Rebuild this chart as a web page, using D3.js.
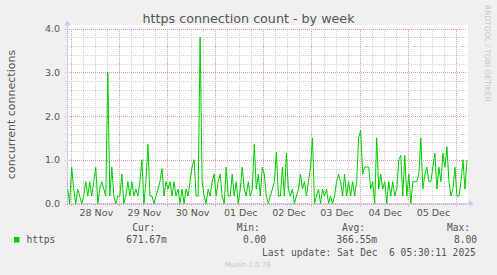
<!DOCTYPE html>
<html>
<head>
<meta charset="utf-8">
<script src="https://cdn.jsdelivr.net/npm/d3@7"></script>
<style>
  body { margin: 0; background: #f0f0f0; }
  svg { display: block; }
  text { font-family: "DejaVu Sans", sans-serif; }
  .mono { font-family: "DejaVu Sans Mono", monospace; }
</style>
</head>
<body>
<svg width="497" height="275"></svg>
<script>
(function (d3) {
  'use strict';

  // time window shown by the graph (munin week view)
  const startTime = new Date(2025, 10, 27, 22, 10);
  const endTime = new Date(2025, 11, 6, 5, 30);
  const firstSample = new Date(2025, 10, 27, 22, 30);
  const sampleStepMinutes = 60;

  // concurrent https connections, one value per hour
  const connections = [
    0.33, 0, 0.83, 0.33, 0, 0.33, 0.17, 0, 0.17, 0.5,
    0.17, 0.5, 0.17, 0.5, 0.83, 0, 0.33, 0.5, 0.33, 0.17,
    3.0, 0.17, 0.83, 0.17, 0, 0.17, 0.17, 0.67, 0, 0.17,
    0.5, 0.17, 0.5, 0.17, 0.33, 0.17, 0.5, 1.0, 0, 0.5,
    1.35, 0.17, 0.17, 0, 0.17, 0.33, 0.5, 0.8, 0.17, 0.5,
    0.33, 0.5, 0.17, 0.5, 0.17, 0.33, 0, 0.33, 0, 0.33,
    0.17, 0.5, 0.83, 1.0, 0.17, 0.17, 3.8, 0.5, 0.17, 0,
    0.33, 0.17, 0.5, 0.67, 0.17, 0.5, 0.67, 0.17, 0, 0.83,
    0.17, 0.17, 0.67, 0.17, 0.5, 0, 0.33, 0.83, 0.33, 0.17,
    0.5, 0.17, 0.33, 1.35, 0.33, 0.67, 0.17, 0.83, 0.67, 0.17,
    0, 0.17, 0.33, 0.5, 1.17, 0.17, 0.17, 0.83, 0.17, 1.15,
    0.33, 0.17, 0.33, 0, 0.17, 0.33, 0.67, 0.33, 0.5, 0.17,
    0.5, 0.83, 1.5, 0, 0.17, 0.33, 0, 0.33, 0.17, 0.33,
    0, 0.17, 0, 0.17, 0.5, 0.67, 0.5, 0.17, 0.67, 0.17,
    0.5, 0.17, 0.5, 0.17, 0.5, 1.5, 1.67, 0.67, 0.83, 0.83,
    0.83, 0.33, 0.5, 0, 1.5, 0.33, 0.67, 0.33, 0.5, 0,
    0.5, 0.17, 0.5, 0.17, 0.33, 1.0, 1.1, 0.17, 1.1, 0.17,
    0.67, 0, 0.5, 0.5, 0.5, 0.67, 1.5, 0.33, 0.67, 0.83,
    0.5, 0.5, 0.83, 1.15, 0.33, 0.83, 0.5, 1.15, 0.83, 1.3,
    0.5, 0.17, 0.33, 0.83, 0.17, 0.17, 0.5, 1.0, 0.33, 1.0
  ];

  const yMajorTicks = [0, 1, 2, 3, 4];
  const yMinorStep = 0.2;

  const legendHeaders = ['Cur:', 'Min:', 'Avg:', 'Max:'];
  const legendValues = ['671.67m', '0.00', '366.55m', '8.00'];

  const data = connections.map((v, i) => ({
    time: d3.timeMinute.offset(firstSample, i * sampleStepMinutes),
    value: v
  }));

  const svg = d3.select('svg');
  const left = 67, right = 467, top = 28.5, bottom = 203.5;
  const axisColor = '#c4caf4';
  const textColor = '#555';

  const xScale = d3.scaleTime().domain([startTime, endTime]).range([left, right]);
  const yScale = d3.scaleLinear().domain([0, 4]).range([bottom, top]);

  // plot canvas
  svg.append('rect')
    .attr('x', left).attr('y', 25)
    .attr('width', right - left + 1).attr('height', bottom - 25)
    .attr('fill', '#fff');

  // grid
  const minorY = d3.range(0, 4.0001, yMinorStep).filter(v => Math.abs(v - Math.round(v)) > 1e-6);
  const minorX = d3.timeHour.every(6).range(startTime, endTime).filter(d => d.getHours() !== 0);
  const days = d3.timeDay.range(d3.timeDay.ceil(startTime), endTime);

  const grid = svg.append('g').attr('shape-rendering', 'crispEdges');

  grid.append('g')
    .attr('transform', `translate(0,${bottom})`)
    .call(d3.axisBottom(xScale).tickValues(minorX).tickSize(-(bottom - top)).tickSizeOuter(0).tickFormat(''))
    .call(g => g.select('.domain').remove())
    .selectAll('line').attr('stroke', '#d2d2d2').attr('stroke-dasharray', '1,1').attr('y1', 2);

  grid.append('g')
    .attr('transform', `translate(${left},0)`)
    .call(d3.axisLeft(yScale).tickValues(minorY).tickSize(-(right - left)).tickFormat(''))
    .call(g => g.select('.domain').remove())
    .selectAll('line').attr('stroke', '#d2d2d2').attr('stroke-dasharray', '1,1').attr('x1', -2);

  grid.append('g')
    .attr('transform', `translate(0,${bottom})`)
    .call(d3.axisBottom(xScale).tickValues(days).tickSize(-(bottom - top)).tickFormat(''))
    .call(g => g.select('.domain').remove())
    .selectAll('line').attr('stroke', '#e79a9a').attr('stroke-dasharray', '1,1').attr('y1', 2);

  grid.append('g')
    .attr('transform', `translate(${left},0)`)
    .call(d3.axisLeft(yScale).tickValues(yMajorTicks).tickSize(-(right - left)).tickFormat(''))
    .call(g => g.select('.domain').remove())
    .selectAll('line').attr('stroke', '#e79a9a').attr('stroke-dasharray', '1,1').attr('x1', -2);

  // axes lines with arrows
  svg.append('line')
    .attr('x1', left + 0.5).attr('x2', left + 0.5)
    .attr('y1', bottom).attr('y2', 24)
    .attr('stroke', axisColor);
  svg.append('line')
    .attr('x1', left).attr('x2', 470)
    .attr('y1', bottom).attr('y2', bottom)
    .attr('stroke', axisColor);
  svg.append('path')
    .attr('d', `M${left + 0.5},20.5 L${left - 2.5},25.5 L${left + 3.5},25.5 Z`)
    .attr('fill', axisColor);
  svg.append('path')
    .attr('d', `M474,${bottom} L469,${bottom - 3} L469,${bottom + 3} Z`)
    .attr('fill', axisColor);

  // tick labels
  const noons = days.map(d => d3.timeHour.offset(d, 12)).filter(d => d < endTime);
  svg.append('g')
    .attr('transform', `translate(1,${bottom})`)
    .call(d3.axisBottom(xScale).tickValues(noons).tickSize(0).tickPadding(6)
      .tickFormat(d3.timeFormat('%d %b')))
    .call(g => g.select('.domain').remove())
    .selectAll('text')
      .attr('font-family', '"DejaVu Sans", sans-serif')
      .attr('font-size', '9.5px')
      .attr('fill', textColor);

  svg.append('g')
    .attr('transform', `translate(${left},0)`)
    .call(d3.axisLeft(yScale).tickValues(yMajorTicks).tickSize(0).tickPadding(7)
      .tickFormat(d3.format('.1f')))
    .call(g => g.select('.domain').remove())
    .selectAll('text')
      .attr('font-family', '"DejaVu Sans", sans-serif')
      .attr('font-size', '9.5px')
      .attr('fill', textColor);

  // series
  const line = d3.line()
    .x(d => xScale(d.time))
    .y(d => yScale(d.value));

  svg.append('path')
    .datum(data)
    .attr('d', line)
    .attr('fill', 'none')
    .attr('stroke', '#00cc00')
    .attr('stroke-width', 1);

  // title & labels
  svg.append('text')
    .attr('x', 248.5).attr('y', 23)
    .attr('text-anchor', 'middle')
    .attr('font-size', '12.7px')
    .attr('fill', textColor)
    .text('https connection count - by week');

  svg.append('text')
    .attr('transform', 'translate(15,114.5) rotate(-90)')
    .attr('text-anchor', 'middle')
    .attr('font-size', '11px')
    .attr('fill', textColor)
    .text('concurrent connections');

  svg.append('text')
    .attr('transform', 'translate(484.5,5) rotate(90)')
    .attr('font-size', '7.5px')
    .attr('fill', '#c8c8c8')
    .text('RRDTOOL / TOBI OETIKER');

  // legend
  svg.append('rect')
    .attr('x', 14).attr('y', 237)
    .attr('width', 5.5).attr('height', 5.5)
    .attr('fill', '#00cc00');

  svg.append('text').attr('class', 'mono')
    .attr('x', 26.5).attr('y', 243.3)
    .attr('font-size', '9.6px').attr('fill', textColor)
    .text('https');

  const headerX = [132.3, 236.7, 342, 447];
  const valueRight = [166.7, 266, 377, 477];

  svg.append('g').selectAll('text').data(legendHeaders)
    .enter().append('text')
      .attr('class', 'mono')
      .attr('x', (d, i) => headerX[i]).attr('y', 231)
      .attr('font-size', '9.6px').attr('fill', textColor)
      .text(d => d);

  svg.append('g').selectAll('text').data(legendValues)
    .enter().append('text')
      .attr('class', 'mono')
      .attr('x', (d, i) => valueRight[i]).attr('y', 243.3)
      .attr('text-anchor', 'end')
      .attr('font-size', '9.6px').attr('fill', textColor)
      .text(d => d);

  svg.append('text').attr('class', 'mono')
    .attr('x', 262).attr('y', 255.5)
    .attr('font-size', '9.6px').attr('fill', textColor)
    .attr('xml:space', 'preserve')
    .style('white-space', 'pre')
    .text('Last update: Sat Dec  6 05:30:11 2025');

  svg.append('text')
    .attr('x', 247.7).attr('y', 266.5)
    .attr('text-anchor', 'middle')
    .attr('font-size', '7px')
    .attr('fill', '#c8c8c8')
    .text('Munin 2.0.76');

}(d3));
</script>
</body>
</html>
